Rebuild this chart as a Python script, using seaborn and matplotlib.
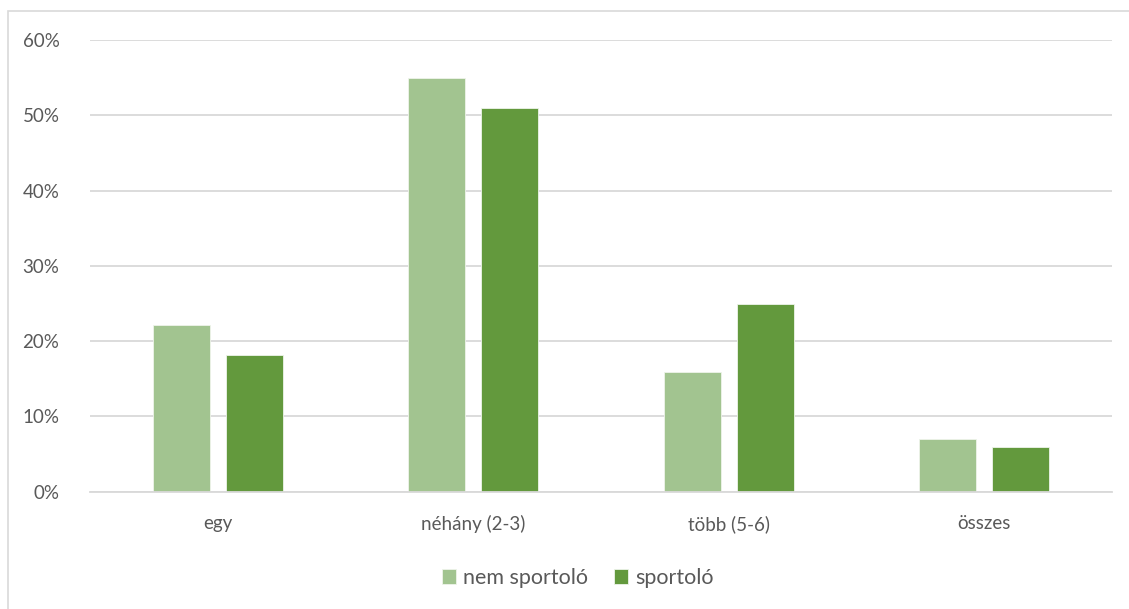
import matplotlib
matplotlib.use("Agg")
import matplotlib.pyplot as plt
from matplotlib.patches import Rectangle
from matplotlib.ticker import FuncFormatter, MultipleLocator
import pandas as pd
import seaborn as sns

categories = ["egy", "néhány (2-3)", "több (5-6)", "összes"]
series_names = ["nem sportoló", "sportoló"]
nem_sportolo = [22.2, 55.0, 15.9, 7.0]
sportolo = [18.2, 51.0, 25.0, 5.9]
colors = ["#A2C490", "#63993D"]
text_color = "#595959"

df = pd.DataFrame({
    "kategoria": categories * 2,
    "csoport": [series_names[0]] * len(categories) + [series_names[1]] * len(categories),
    "ertek": nem_sportolo + sportolo,
})

sns.set_theme(style="white")
plt.rcParams["font.family"] = ["Lato", "DejaVu Sans"]

fig = plt.figure(figsize=(11.29, 6.09), dpi=100)
ax = fig.add_axes([0.0797, 0.1926, 0.9053, 0.7417])

sns.barplot(data=df, x="kategoria", y="ertek", hue="csoport",
            order=categories, hue_order=series_names,
            palette=colors, width=0.571, gap=0.22,
            edgecolor="#eef4ea", linewidth=0.6, saturation=1,
            ax=ax, legend=True)

ax.set_ylim(0, 60)
ax.set_xlim(-0.5, len(categories) - 0.5)
ax.yaxis.set_major_locator(MultipleLocator(10))
ax.yaxis.set_major_formatter(FuncFormatter(lambda v, p: f"{v:.0f}%"))
ax.grid(axis="y", color="#d9d9d9", linewidth=1.3)
ax.set_axisbelow(True)
for side in ["top", "right", "left"]:
    ax.spines[side].set_visible(False)
ax.spines["bottom"].set_color("#d9d9d9")
ax.spines["bottom"].set_linewidth(1.3)
ax.set_xlabel("")
ax.set_ylabel("")
ax.tick_params(axis="both", length=0, colors=text_color, labelsize=13.5)
ax.tick_params(axis="y", pad=22)
ax.tick_params(axis="x", pad=17)

handles, labels = ax.get_legend_handles_labels()
ax.legend(handles, labels, loc="center", bbox_to_anchor=(0.512, 0.051),
          bbox_transform=fig.transFigure, ncol=2, frameon=False,
          handlelength=0.65, handleheight=0.65, handletextpad=0.33,
          columnspacing=1.2, fontsize=15.5, labelcolor=text_color)

# outer chart frame
fig.patches.append(Rectangle((8 / 1129, -0.05), 1.1, 1 - 11 / 609 + 0.05,
                             transform=fig.transFigure, fill=False,
                             edgecolor="#d9d9d9", linewidth=1.2))

fig.savefig("out.png", dpi=100)
